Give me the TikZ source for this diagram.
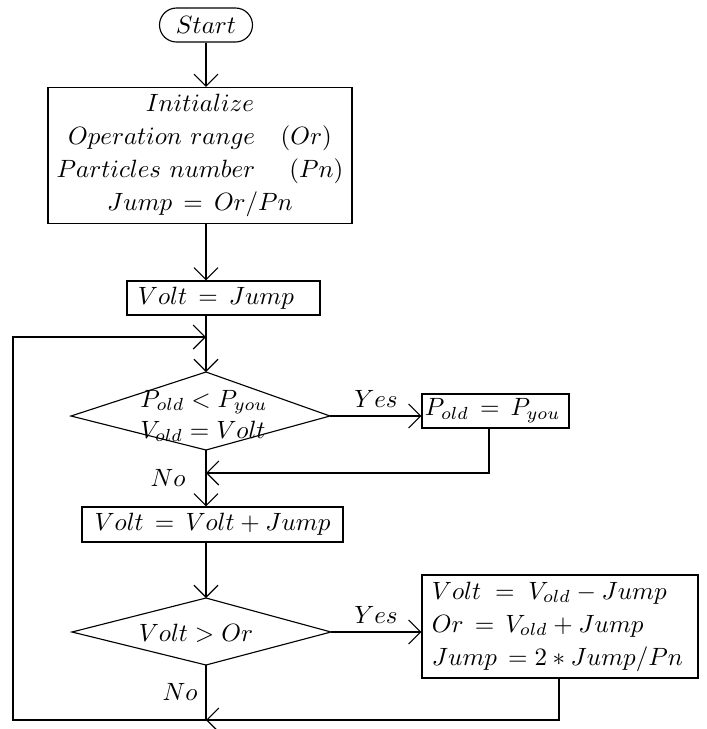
\documentclass[tikz,border=0pt]{standalone}
\usetikzlibrary{arrows.meta}
\begin{document}
\begin{tikzpicture}[x=0.4pt,y=-0.4pt,
  line width=0.45pt,
  flow/.style={-{Straight Barb[length=4.8pt,width=9.6pt]}},
  box/.style={draw,inner ysep=0pt,font=\fontsize{10.2}{13.2}\selectfont},
  lbl/.style={inner sep=0pt,font=\fontsize{10.2}{12}\selectfont}]
\useasboundingbox (0,0) rectangle (707,729);

% start terminal
\node[box,rounded corners=6.8pt,minimum width=37.2pt,minimum height=13.6pt] (start) at (206,25) {$Start$};

% initialisation block
\node[box,minimum width=121.6pt,minimum height=54.4pt,align=center] (init) at (200,155.5)
  {$Initialize$\\ $Operation~range\quad(Or)$\\ $Particles~number\quad\ (Pn)$\\ $Jump\,=\,Or/Pn$};

\node[box,text width=68.4pt,inner xsep=4.4pt,minimum height=13.6pt,align=left] (vj) at (223.5,298) {$Volt\,=\,Jump$};

% first decision
\coordinate (d1t) at (206,372);
\coordinate (d1l) at (71,416);
\coordinate (d1r) at (330,416);
\coordinate (d1b) at (206,450);
\draw (d1t) -- (d1r) -- (d1b) -- (d1l) -- cycle;
\node[lbl,align=left,font=\fontsize{10.2}{12.4}\selectfont] (d1txt) at (204,416) {$P_{old}<P_{you}$\\ $V_{old}=Volt$};

\node[box,text width=56.4pt,inner xsep=1.2pt,minimum height=13.6pt,align=left] (pbox) at (495.5,411) {$P_{old}\,=\,P_{you}$};

\node[box,minimum width=104.4pt,minimum height=14pt] (vvj) at (212.5,524.5) {$Volt\,=\,Volt+Jump$};

% second decision
\coordinate (d2t) at (206,598);
\coordinate (d2l) at (72,632);
\coordinate (d2r) at (331,632);
\coordinate (d2b) at (206,665);
\draw (d2t) -- (d2r) -- (d2b) -- (d2l) -- cycle;
\node[lbl] (d2txt) at (196,633) {$Volt>Or$};

\node[box,text width=102.4pt,inner xsep=4pt,minimum height=41.2pt,align=left,font=\fontsize{10}{13.2}\selectfont] (upd) at (560,626.5)
  {$Volt\;=\;V_{old}-Jump$\\ $Or\,=\,V_{old}+Jump$\\ $Jump\,=2*Jump/Pn$};

% loop corners
\coordinate (join) at (206,337);
\coordinate (r1) at (489,473);
\coordinate (r2) at (559,720);
\coordinate (lc) at (13,720);

% main flow
\draw[flow] (start) -- (start |- init.north);
\draw[flow] (start |- init.south) -- (start |- vj.north);
\draw[flow] (start |- vj.south) -- (d1t);
\draw[flow] (d1b) -- (d1b |- vvj.north);
\draw[flow] (d1b |- vvj.south) -- (d2t);

% yes branches
\draw[flow] (d1r) -- (d1r -| pbox.west);
\node[lbl] (yes1) at (376,399) {$Yes$};
\draw[flow] (r1 |- pbox.south) -- (r1) -- (r1 -| start);
\draw[flow] (d2r) -- (d2r -| upd.west);
\node[lbl] (yes2) at (376,615) {$Yes$};
\draw[flow] (r2 |- upd.south) -- (r2) -- (r2 -| start);

% no branches
\node[lbl] (no1) at (168,478) {$No$};
\node[lbl] (no2) at (180,692) {$No$};
\draw[flow] (d2b) -- (d2b |- lc) -- (lc) -- (lc |- join) -- (join);
\end{tikzpicture}
\end{document}
